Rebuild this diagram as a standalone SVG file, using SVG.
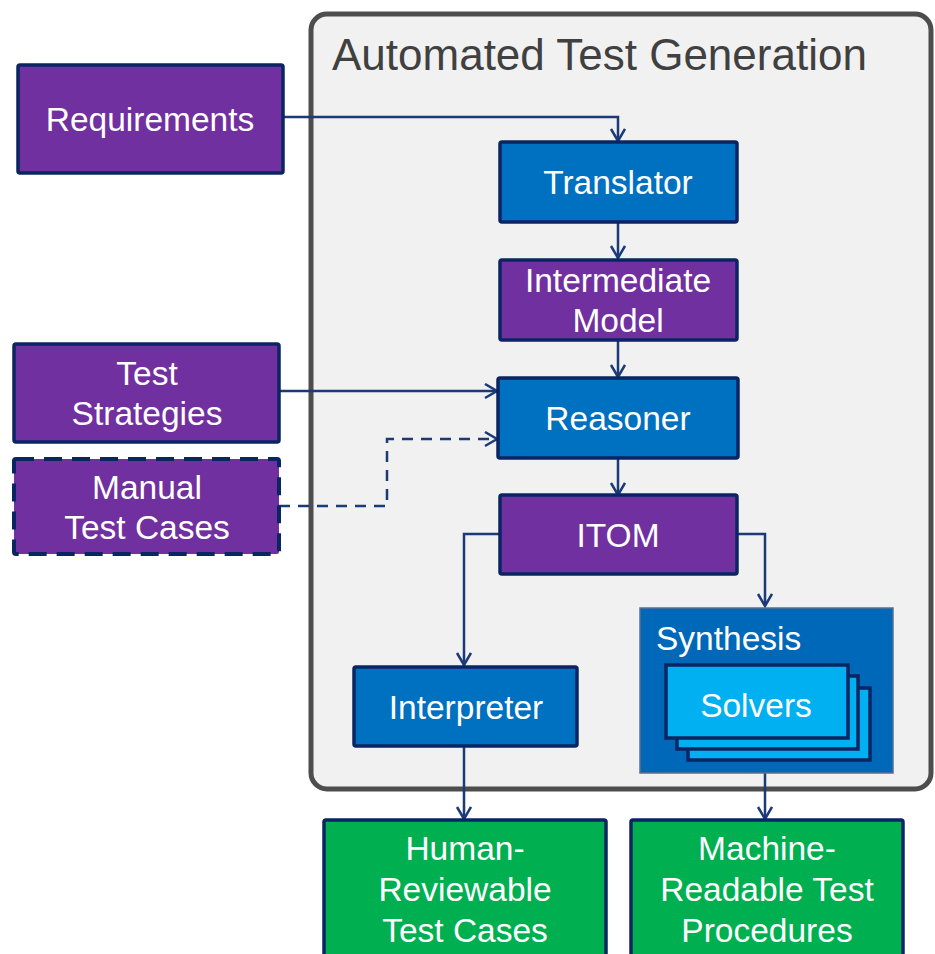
<svg xmlns="http://www.w3.org/2000/svg" width="935" height="954" viewBox="0 0 935 954">
  <style>
    .lbl { font-family: "Liberation Sans", Arial, sans-serif; font-size: 33.5px; fill: #ffffff; text-anchor: middle; }
    .purple { fill: #7030a0; stroke: #0b2462; stroke-width: 3.5; }
    .blue { fill: #0070c0; stroke: #0b2462; stroke-width: 3.5; }
    .green { fill: #00b050; stroke: #0b2462; stroke-width: 3.5; }
    .cyan { fill: #00b0f0; stroke: #0b2462; stroke-width: 3.5; }
    .conn { fill: none; stroke: #1b3a78; stroke-width: 2.5; marker-end: url(#arrow); }
    .dash { stroke-dasharray: 11 8; }
    .box-dash { stroke-dasharray: 18 10; stroke-width: 4; }
  </style>
  <defs>
    <marker id="arrow" markerUnits="userSpaceOnUse" markerWidth="18" markerHeight="18" refX="14" refY="8" orient="auto">
      <path d="M2,1 L14,8 L2,15" fill="none" stroke="#1b3a78" stroke-width="2.5"/>
    </marker>
  </defs>

  <!-- container -->
  <g id="automated-test-generation">
    <rect x="311" y="14" width="620" height="775" rx="16" fill="#f1f1f1" stroke="#4d4d4d" stroke-width="5"/>
    <text x="332" y="70" font-family="Liberation Sans, Arial, sans-serif" font-size="44" fill="#404040">Automated Test Generation</text>
  </g>

  <!-- connectors -->
  <g id="connectors">
    <path class="conn" d="M283,117 H618 V141"/>
    <path class="conn" d="M618,222 V258"/>
    <path class="conn" d="M618,340 V377"/>
    <path class="conn" d="M279,391 H497"/>
    <path class="conn dash" d="M279,506 H387 V439 H497"/>
    <path class="conn" d="M618,458 V495"/>
    <path class="conn" d="M500,534 H464 V665"/>
    <path class="conn" d="M737,534 H765 V606"/>
    <path class="conn" d="M464,746 V819"/>
    <path class="conn" d="M765,773 V819"/>
  </g>

  <g id="requirements">
    <rect class="purple" x="18" y="65" width="265" height="108" rx="2"/>
    <text class="lbl" x="150" y="131">Requirements</text>
  </g>

  <g id="translator">
    <rect class="blue" x="500" y="142" width="237" height="80" rx="2"/>
    <text class="lbl" x="618" y="194">Translator</text>
  </g>

  <g id="intermediate-model">
    <rect class="purple" x="500" y="260" width="237" height="80" rx="2"/>
    <text class="lbl" x="618" y="292">Intermediate</text>
    <text class="lbl" x="618" y="332">Model</text>
  </g>

  <g id="test-strategies">
    <rect class="purple" x="14" y="344" width="265" height="98" rx="2"/>
    <text class="lbl" x="147" y="385">Test</text>
    <text class="lbl" x="147" y="425">Strategies</text>
  </g>

  <g id="manual-test-cases">
    <rect class="purple box-dash" x="14" y="459" width="265" height="95" rx="2"/>
    <text class="lbl" x="147" y="499">Manual</text>
    <text class="lbl" x="147" y="539">Test Cases</text>
  </g>

  <g id="reasoner">
    <rect class="blue" x="498" y="378" width="240" height="80" rx="2"/>
    <text class="lbl" x="618" y="430">Reasoner</text>
  </g>

  <g id="itom">
    <rect class="purple" x="500" y="495" width="237" height="79" rx="2"/>
    <text class="lbl" x="618" y="547">ITOM</text>
  </g>

  <g id="interpreter">
    <rect class="blue" x="354" y="667" width="223" height="79" rx="2"/>
    <text class="lbl" x="466" y="719">Interpreter</text>
  </g>

  <g id="synthesis">
    <rect x="640" y="608" width="253" height="165" fill="#0068b8" stroke="#5a6f90" stroke-width="1.5"/>
    <text x="656" y="650" font-family="Liberation Sans, Arial, sans-serif" font-size="33.5" fill="#ffffff">Synthesis</text>
    <g id="solvers">
      <rect class="cyan" x="688" y="688" width="182" height="72"/>
      <rect class="cyan" x="677" y="676" width="181" height="73"/>
      <rect class="cyan" x="666" y="665" width="182" height="73"/>
      <text class="lbl" x="756" y="717">Solvers</text>
    </g>
  </g>

  <g id="human-reviewable-test-cases">
    <rect class="green" x="324" y="820" width="282" height="140" rx="2"/>
    <text class="lbl" x="465" y="860">Human-</text>
    <text class="lbl" x="465" y="901">Reviewable</text>
    <text class="lbl" x="465" y="942">Test Cases</text>
  </g>

  <g id="machine-readable-test-procedures">
    <rect class="green" x="631" y="820" width="272" height="140" rx="2"/>
    <text class="lbl" x="767" y="860">Machine-</text>
    <text class="lbl" x="767" y="901">Readable Test</text>
    <text class="lbl" x="767" y="942">Procedures</text>
  </g>
</svg>
